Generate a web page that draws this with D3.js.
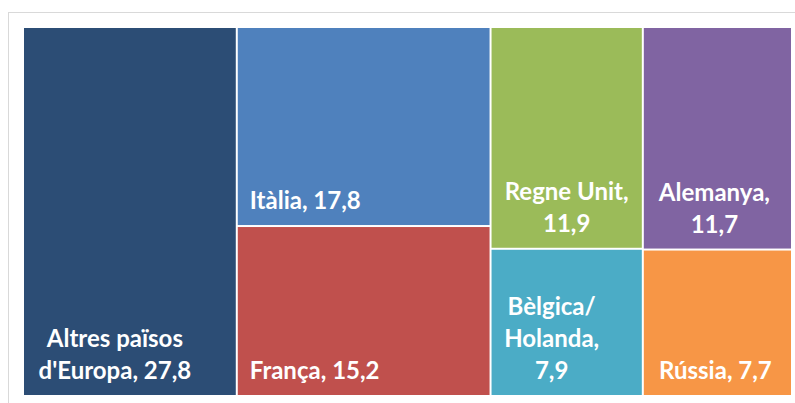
<!DOCTYPE html>
<html>
<head>
<meta charset="utf-8">
<script src="https://cdn.jsdelivr.net/npm/d3@7"></script>
<style>
  body { margin: 0; background: #fff; }
  svg { display: block; }
</style>
</head>
<body>
<svg id="chart"></svg>
<script>
// data ======>
var groups = ['g1', 'g2', 'g2', 'g3', 'g3', 'g4', 'g4'] // column each country sits in
var countries = ["Altres països d'Europa", 'Itàlia', 'França', 'Regne Unit', 'Bèlgica/Holanda', 'Alemanya', 'Rússia']
var values = [27.8, 17.8, 15.2, 11.9, 7.9, 11.7, 7.7]
var labelLines = [
    ['Altres països', "d'Europa, 27,8"],
    ['Itàlia, 17,8'],
    ['França, 15,2'],
    ['Regne Unit,', '11,9'],
    ['Bèlgica/', 'Holanda,', '7,9'],
    ['Alemanya,', '11,7'],
    ['Rússia, 7,7']
]

// styles ======>
var colors = ['#2c4d75', '#4f81bd', '#c0504d', '#9bbb59', '#4bacc6', '#8064a2', '#f79646']
var labelAlign = ['middle', 'start', 'start', 'middle', 'middle', 'middle', 'middle']
var labelDx = [-15, 12, 12, 0, -15, -3, -2]

var svgWidth = 795, svgHeight = 403
var svg = d3.select('#chart')
    .attr('width', svgWidth)
    .attr('height', svgHeight)

// light frame round the chart
svg.append('rect')
    .attr('x', 8.5)
    .attr('y', 12.5)
    .attr('width', 800)
    .attr('height', 400)
    .attr('fill', 'none')
    .attr('stroke', '#d9d9d9')
    .attr('stroke-width', 1)

// build hierarchy: root -> columns -> countries
var rows = countries.map(function(c, i) {
    return { name: c, group: groups[i], value: values[i], idx: i }
})
var nested = d3.group(rows, function(d) { return d.group })
var root = d3.hierarchy({ children: Array.from(nested, function(e) {
        return { name: e[0], children: e[1] }
    }) }, function(d) { return d.children })
    .sum(function(d) { return d.children ? 0 : d.value })

var x0 = 24, y0 = 28, x1 = 791, y1 = 395
d3.treemap()
    .tile(d3.treemapSliceDice) // columns across, then stacked down
    .size([x1 - x0, y1 - y0])
    .paddingInner(2)
    .round(false)(root)

var g = svg.append('g').attr('transform', 'translate(' + x0 + ',' + y0 + ')')

var leaves = g.selectAll('g.leaf')
    .data(root.leaves())
    .enter()
    .append('g')
    .attr('class', 'leaf')

leaves.append('rect')
    .attr('x', function(d) { return d.x0 })
    .attr('y', function(d) { return d.y0 })
    .attr('width', function(d) { return d.x1 - d.x0 })
    .attr('height', function(d) { return d.y1 - d.y0 })
    .attr('fill', function(d) { return colors[d.data.idx] })

var lineH = 32
leaves.append('text')
    .attr('font-family', 'Lato, "Open Sans", sans-serif')
    .attr('font-weight', 'bold')
    .attr('font-size', 24)
    .attr('fill', '#fff')
    .attr('text-anchor', function(d) { return labelAlign[d.data.idx] })
    .each(function(d) {
        var i = d.data.idx
        var lines = labelLines[i]
        var tx = labelAlign[i] === 'start' ? d.x0 + labelDx[i] : (d.x0 + d.x1) / 2 + labelDx[i]
        var lastY = d.y1 - 16
        d3.select(this).selectAll('tspan')
            .data(lines)
            .enter()
            .append('tspan')
            .attr('x', tx)
            .attr('y', function(l, j) { return lastY - (lines.length - 1 - j) * lineH })
            .text(function(l) { return l })
    })
</script>
</body>
</html>
